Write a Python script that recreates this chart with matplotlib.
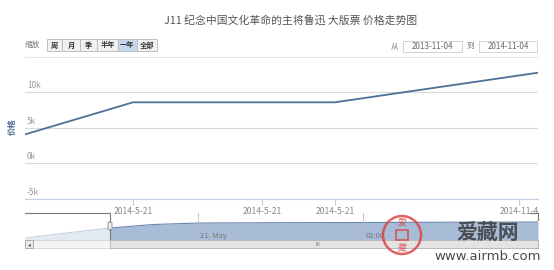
import matplotlib
matplotlib.use("Agg")
import matplotlib.pyplot as plt
from matplotlib.patches import Rectangle, Ellipse, FancyBboxPatch
from matplotlib.lines import Line2D

plt.rcParams['font.family'] = ['Noto Sans CJK SC', 'DejaVu Sans']

# ---- data ----
title = "J11 纪念中国文化革命的主将鲁迅 大版票 价格走势图"
x_vals = [0.0, 2.105, 6.04, 10.0]
prices = [4050, 8550, 8550, 12700]
y_ticks = [-5000, 0, 5000, 10000]
y_tick_labels = ["-5k", "0k", "5k", "10k"]
x_tick_pos = [2.105, 4.62, 6.04, 9.63]
x_tick_labels = ["2014-5-21", "2014-5-21", "2014-5-21", "2014-11-4"]
nav_x = [0.0, 0.8, 1.657, 2.5, 3.4, 5.0, 6.6, 8.2, 10.0]
nav_vals = [2.0, 7.0, 12.0, 15.5, 17.0, 17.3, 17.5, 17.8, 18.0]
nav_sel_start = 1.657
nav_grid = [3.37, 6.59]
nav_grid_labels = ["21. May", "02:00"]
buttons = ["周", "月", "季", "半年", "一年", "全部"]
selected_button = "一年"
date_from = "2013-11-04"
date_to = "2014-11-04"

W, H = 554, 270
fig = plt.figure(figsize=(W / 100, H / 100), dpi=100)
fig.patch.set_facecolor("white")

def fx(px):
    return px / W

def fy(py):
    return 1 - py / H

LINE = "#4f6f96"
GRID = "#d9d9d9"
LABEL = "#999999"

# ---- title ----
fig.text(fx(291), fy(20), title, ha="center", va="center", fontsize=7.8, color="#555555")

# ---- range selector ----
fig.text(fx(25), fy(45), "缩放", ha="left", va="center", fontsize=5.5, color="#777777")
btn_edges = [47, 62, 80, 97, 118, 137, 157]
for i, b in enumerate(buttons):
    x0, x1 = btn_edges[i], btn_edges[i + 1]
    sel = (b == selected_button)
    r = Rectangle((fx(x0), fy(51)), fx(x1 - x0), 12 / H, transform=fig.transFigure,
                  facecolor="#c6d7ee" if sel else "#f1f1f1", edgecolor="#b8b8b8", lw=0.6)
    fig.add_artist(r)
    fig.text(fx((x0 + x1) / 2), fy(45), b, ha="center", va="center", fontsize=5.2,
             color="#333333", fontweight="bold")

# date inputs
fig.text(fx(395), fy(46), "从", ha="center", va="center", fontsize=5.5, color="#777777")
fig.text(fx(470), fy(46), "到", ha="center", va="center", fontsize=5.5, color="#777777")
for (x0, x1, t) in [(403, 462, date_from), (479, 537, date_to)]:
    r = Rectangle((fx(x0), fy(52)), fx(x1 - x0), 11 / H, transform=fig.transFigure,
                  facecolor="white", edgecolor="#cccccc", lw=0.6)
    fig.add_artist(r)
    fig.text(fx((x0 + x1) / 2), fy(46.5), t, ha="center", va="center", fontsize=5.8, color="#666666")

fig.add_artist(Line2D([fx(25), fx(538)], [fy(57), fy(57)], transform=fig.transFigure,
                      color="#e3e3e3", lw=0.8))

# ---- main axes ----
ax = fig.add_axes([fx(25), fy(199), fx(513), 137 / H])
ax.set_xlim(0, 10)
ax.set_ylim(-5000, 14200)
ax.plot(x_vals, prices, color=LINE, lw=1.3, solid_capstyle="round")
for s in ["top", "right", "left"]:
    ax.spines[s].set_visible(False)
ax.spines["bottom"].set_color("#c0d0e0")
ax.spines["bottom"].set_linewidth(0.8)
ax.set_yticks(y_ticks)
ax.set_yticklabels([])
ax.tick_params(axis="y", length=0)
ax.grid(axis="y", color=GRID, lw=0.8)
for v, lab in zip(y_ticks, y_tick_labels):
    ax.text(0.004, v + 300, lab, transform=ax.get_yaxis_transform(), ha="left", va="bottom",
            fontsize=6, color=LABEL)
ax.set_xticks(x_tick_pos)
ax.set_xticklabels(x_tick_labels, fontsize=6.2, color="#888888")
ax.tick_params(axis="x", length=4, color="#c0d0e0", pad=1.5)
ax.set_facecolor("none")
fig.text(fx(12), fy(127), "价格", rotation=90, ha="center", va="center", fontsize=6,
         color="#4d6d94", fontweight="bold")

# ---- navigator ----
nav = fig.add_axes([fx(25), fy(240), fx(513), 27 / H])
nav.set_xlim(0, 10)
nav.set_ylim(0, 27)
nav.axis("off")
left_x = [x for x in nav_x if x <= nav_sel_start]
left_y = nav_vals[:len(left_x)]
right_x = nav_x[len(left_x) - 1:]
right_y = nav_vals[len(left_x) - 1:]
nav.fill_between(left_x, 0, left_y, color="#e4eaf2", lw=0)
nav.plot(left_x, left_y, color="#c8d3e2", lw=0.8)
nav.fill_between(right_x, 0, right_y, color="#a9bcd7", lw=0)
nav.plot(right_x, right_y, color="#6a87ad", lw=0.8)
for gx, gl in zip(nav_grid, nav_grid_labels):
    nav.plot([gx, gx], [0, 27], color="#bbbbbb", lw=0.6)
    nav.text(gx + 0.05, 4, gl, ha="left", va="center", fontsize=5.5, color="#777777")
# outline
nav.plot([0, nav_sel_start, nav_sel_start], [27, 27, 0], color="#777777", lw=0.8, clip_on=False)
nav.plot([9.85, 10, 10], [27, 27, 20], color="#777777", lw=0.8, clip_on=False)
# handle
h = FancyBboxPatch((fx(108), fy(230)), fx(4), 8 / H, boxstyle="round,pad=0,rounding_size=0.004",
                   transform=fig.transFigure, facecolor="#eeeeee", edgecolor="#888888", lw=0.6)
fig.add_artist(h)

# ---- scrollbar ----
fig.add_artist(Rectangle((fx(25), fy(248)), fx(513), 8 / H, transform=fig.transFigure,
                         facecolor="#f4f4f4", edgecolor="#cccccc", lw=0.5))
fig.add_artist(Rectangle((fx(110), fy(248)), fx(428), 8 / H, transform=fig.transFigure,
                         facecolor="#e4e4e4", edgecolor="#aaaaaa", lw=0.5))
fig.add_artist(Rectangle((fx(25), fy(248)), fx(8), 8 / H, transform=fig.transFigure,
                         facecolor="#e8e8e8", edgecolor="#999999", lw=0.5))
fig.text(fx(29), fy(244.3), "◂", ha="center", va="center", fontsize=4, color="#555555")
fig.text(fx(318), fy(244.3), "III", ha="center", va="center", fontsize=4, color="#777777",
         family=["DejaVu Sans"])

# ---- watermark ----
fig.add_artist(Ellipse((fx(402), fy(235)), 38 / W, 38 / H, transform=fig.transFigure,
                       facecolor="none", edgecolor="#d84040", lw=1.8, alpha=0.8))
fig.add_artist(Rectangle((fx(396), fy(240)), fx(12), 10 / H, transform=fig.transFigure,
                         facecolor="none", edgecolor="#d84040", lw=1.2, alpha=0.8))
fig.text(fx(402), fy(222), "愛", ha="center", va="center", fontsize=6.5, color="#d84040", alpha=0.8)
fig.text(fx(402), fy(249), "藏", ha="center", va="center", fontsize=6.5, color="#d84040", alpha=0.8)
fig.text(fx(488), fy(232), "爱藏网", ha="center", va="center", fontsize=15, color="#3a3a3a",
         fontweight="bold", alpha=0.85)
fig.text(fx(488), fy(256), "www.airmb.com", ha="center", va="center", fontsize=9.5,
         color="#4a4a4a", family=["DejaVu Sans"])

fig.savefig("out.png", dpi=100, facecolor="white")
